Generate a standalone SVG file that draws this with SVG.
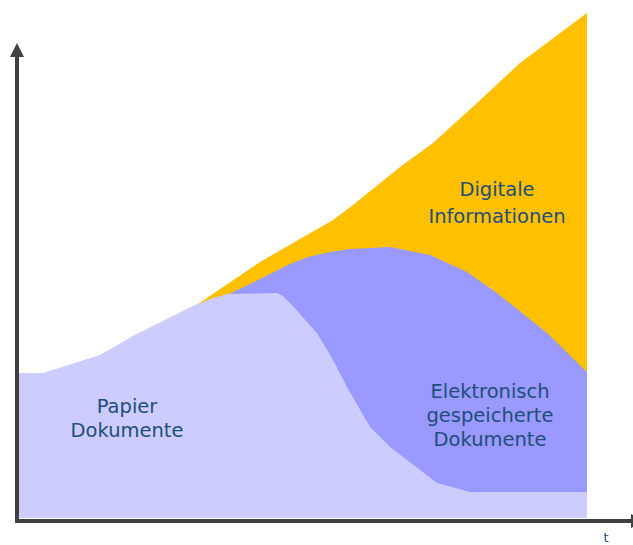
<svg xmlns="http://www.w3.org/2000/svg" width="633" height="545" viewBox="0 0 633 545">
<style>
.lbl{font-family:"DejaVu Sans","Liberation Sans",sans-serif;font-size:19.5px;fill:#1F4E79;text-anchor:middle}
.axis{stroke:#404040;stroke-width:4;fill:none}
</style>
<rect width="633" height="545" fill="#ffffff"/>
<g id="digital">
<polygon fill="#FFC000" points="195,306 260,262 333,220 353,205 400,167 433,143 477,103 520,63 587,13 587,518 195,518"/>
</g>
<g id="electronic">
<polygon fill="#9999FF" points="225,296 260,279 290,264 308,257 330,252 350,249 390,247 430,255 467,272 497,293 547,333 587,372 587,518 225,518"/>
</g>
<g id="paper">
<polygon fill="#CCCCFF" points="19,373 43,373 100,355 133,336 193,306 213,298 227,294 277,293 283,296 290,303 317,333 333,360 347,387 370,427 390,447 437,483 470,492 587,492 587,518 19,518"/>
</g>
<g id="labels">
<text class="lbl" x="497" y="196">Digitale</text>
<text class="lbl" x="497" y="222.5">Informationen</text>
<text class="lbl" x="490" y="397.5">Elektronisch</text>
<text class="lbl" x="490" y="421.5">gespeicherte</text>
<text class="lbl" x="490" y="446">Dokumente</text>
<text class="lbl" x="127" y="413">Papier</text>
<text class="lbl" x="127" y="437">Dokumente</text>
</g>
<g id="axes">
<polyline class="axis" points="17,55 17,521 633,521"/>
<polygon fill="#404040" points="17,43 10,57 24,57"/>
<polygon fill="#404040" points="631,514 645,521 631,528"/>
<text x="606" y="542" font-family="DejaVu Sans, sans-serif" font-size="13" fill="#1F4E79" text-anchor="middle">t</text>
</g>
</svg>
